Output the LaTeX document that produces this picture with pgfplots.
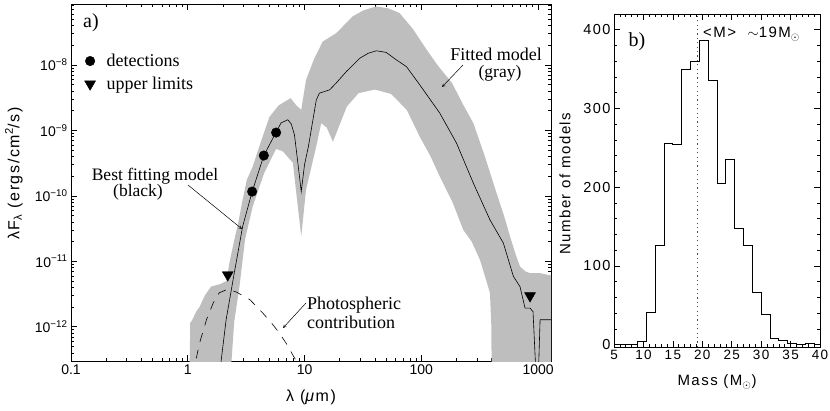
\documentclass[border=0pt]{standalone}
\usepackage{pgfplots}
\pgfplotsset{compat=1.18}
\usepackage{fontspec}
\setmainfont{Liberation Sans}
\newfontfamily\timesfont{Liberation Serif}
\newfontfamily\widefont[LetterSpace=10]{Liberation Sans}
\definecolor{sedgray}{RGB}{190,190,190}
\begin{document}
\begin{tikzpicture}
\path[use as bounding box] (0pt,0pt) rectangle (830pt,411pt);
% ---------------- left panel ----------------
\begin{axis}[
  at={(71pt,50pt)}, anchor=south west,
  scale only axis, width=480pt, height=357pt,
  xmode=log, ymode=log,
  /pgf/number format/assume math mode=true,
  xmin=0.1, xmax=1290, ymin=3e-13, ymax=8.5e-8,
  xtick={0.1,1,10,100,1000}, xticklabels={0.1,1,10,100,1000},
  minor xtick={0.2,0.3,0.4,0.5,0.6,0.7,0.8,0.9,2,3,4,5,6,7,8,9,20,30,40,50,60,70,80,90,200,300,400,500,600,700,800,900},
  ytick={1e-12,1e-11,1e-10,1e-9,1e-8},
  yticklabels={10\textsuperscript{−12},10\textsuperscript{−11},10\textsuperscript{−10},10\textsuperscript{−9},10\textsuperscript{−8}},
  minor ytick={4e-13,5e-13,6e-13,7e-13,8e-13,9e-13,2e-12,3e-12,4e-12,5e-12,6e-12,7e-12,8e-12,9e-12,2e-11,3e-11,4e-11,5e-11,6e-11,7e-11,8e-11,9e-11,2e-10,3e-10,4e-10,5e-10,6e-10,7e-10,8e-10,9e-10,2e-9,3e-9,4e-9,5e-9,6e-9,7e-9,8e-9,9e-9,2e-8,3e-8,4e-8,5e-8,6e-8,7e-8,8e-8},
  tick align=inside, tick pos=both,
  major tick length=6pt, minor tick length=3pt,
  every tick/.style={black, line width=0.6pt},
  axis line style={line width=0.8pt},
  ticklabel style={font=\fontsize{14}{16}\selectfont},
  xlabel={λ (\textit{μ}m)},
  xlabel style={font=\widefont\fontsize{16}{18}\selectfont, at={(axis description cs:0.5,-0.101)}, anchor=center},
  ylabel={λF\textsubscript{λ} (ergs/cm\textsuperscript{2}/s)},
  ylabel style={font=\widefont\fontsize{16}{18}\selectfont, at={(axis description cs:-0.119,0.525)}, anchor=center},
  legend style={at={(axis description cs:0.028,0.866)}, anchor=north west, draw=none, fill=none,
    font=\timesfont\fontsize{18}{21}\selectfont, row sep=5pt, column sep=9pt, inner sep=0pt},
  legend cell align=left,
]
% gray envelope of fitted models
\addplot[fill=sedgray, draw=none, forget plot] coordinates {
(1.03,1e-13) (1.05,1.14e-12) (1.1,1.3e-12) (1.18,1.7e-12) (1.26,2.0e-12) (1.4,3.0e-12)
(1.58,4.1e-12) (1.9,4.5e-12) (2.15,5.0e-12) (2.27,9.4e-12) (2.5,2.1e-11) (2.7,3.8e-11)
(2.95,8.7e-11) (3.2,1.75e-10) (3.6,2.8e-10) (4.1,5.7e-10) (5.0,1.6e-9) (6.0,2.4e-9)
(7.6,3.1e-9) (8.5,2.4e-9) (9.37,2.06e-9) (10.3,5.9e-9) (12,1.2e-8) (14.3,2.27e-8)
(18.7,3.05e-8) (25.8,5.5e-8) (32,6.8e-8) (41,7.8e-8) (52,7.3e-8) (65,6.2e-8) (85,3.5e-8)
(110,1.75e-8) (140,9.5e-9) (183,5.3e-9) (230,2.4e-9) (279,1.29e-9) (350,4e-10)
(441,1.1e-10) (510,5e-11) (575,2.4e-11) (640,1.3e-11) (700,8.3e-12) (780,7e-12)
(853,6.6e-12) (1030,6.6e-12) (1400,5.9e-12) (1400,1e-13)
(401,1e-13) (398,1.0e-12) (387,3.3e-12) (350,6e-12) (318,1.05e-11) (270,2e-11)
(229,3e-11) (185,8e-11) (144,1.97e-10) (120,4e-10) (97,8e-10) (75,2.06e-9) (55,3.6e-9)
(40,4.2e-9) (29,3.7e-9) (23,2.3e-9) (17.5,6.7e-10) (15.5,1.1e-9) (13.9,1.29e-9)
(12.6,5.7e-10) (10.3,1.24e-10) (9.37,2.4e-11) (7.94,3.2e-10) (6.5,4.8e-10) (5.7,5.2e-10)
(4.5,2.2e-10) (3.6,6.9e-11) (3.1,2.2e-11) (2.77,4.1e-12) (2.5,1.2e-12) (2.27,1e-13)
} --cycle;
% best fitting model
\addplot[black, line width=0.6pt, forget plot] coordinates {
(1.85,1e-13) (1.93,3e-13) (2.13,1.28e-12) (2.5,6.6e-12) (2.95,3.4e-11) (3.56,1.16e-10)
(4.48,4.12e-10) (5.71,9.4e-10) (6.3,1.3e-9) (7.19,1.45e-9) (7.7,1.25e-9) (8.2,8.5e-10)
(8.8,3e-10) (9.37,1.16e-10) (10.0,3e-10) (10.8,5.7e-10) (12.6,2.9e-9) (13.4,3.7e-9)
(16.4,4.15e-9) (18.7,5.3e-9) (22.8,7.9e-9) (29.7,1.26e-8) (35,1.5e-8) (41.2,1.64e-8)
(50,1.55e-8) (61.2,1.19e-8) (74.6,9.4e-9) (97,4.95e-9) (144,1.83e-9) (200,6.4e-10)
(279,1.56e-10) (387,4.3e-11) (504,1.9e-11) (614,5.9e-12) (700,4.1e-12) (773,1.93e-12)
(853,1.93e-12) (905,1.7e-12) (975,1e-13) (995,1e-13) (1040,1.28e-12) (1400,1.28e-12)
};
% photospheric contribution
\addplot[black, line width=0.6pt, dash pattern=on 9pt off 8pt, forget plot] coordinates {
(1.12,1e-13) (1.17,3e-13) (1.26,5.6e-13) (1.45,1.3e-12) (1.65,2.3e-12) (1.86,3.3e-12)
(2.2,3.75e-12) (2.6,3.4e-12) (3.05,2.9e-12) (3.4,2.6e-12) (4.39,1.62e-12) (5.2,1.15e-12)
(6.1,8.0e-13) (7.0,5.5e-13) (7.94,3.7e-13) (8.6,2.9e-13) (9.5,2e-13)
};
% detections
\addplot[only marks, mark=*, mark size=4.8pt, black] coordinates {
(3.56,1.16e-10) (4.48,4.12e-10) (5.71,9.25e-10)
};
\addlegendentry{detections}
% upper limits
\addplot[only marks, mark=triangle*, mark size=6.3pt, mark options={rotate=180}, black] coordinates {
(2.2,6.2e-12) (853,2.97e-12)
};
\addlegendentry{upper limits}
\end{axis}
% annotations left panel
\node[font=\timesfont\fontsize{20}{22}\selectfont, anchor=center] at (91pt,388pt) {a)};
\node[font=\timesfont\fontsize{17.5}{20}\selectfont, anchor=base, inner sep=0pt] at (155pt,230pt) {Best fitting model};
\node[font=\timesfont\fontsize{17.5}{20}\selectfont, anchor=base, inner sep=0pt] at (138pt,214pt) {(black)};
\draw[-stealth, line width=0.5pt] (188pt,226pt) -- (242pt,182pt);
\node[font=\timesfont\fontsize{18}{20}\selectfont, anchor=base, inner sep=0pt] at (496pt,350pt) {Fitted model};
\node[font=\timesfont\fontsize{17.5}{20}\selectfont, anchor=base, inner sep=0pt] at (500pt,333pt) {(gray)};
\draw[-stealth, line width=0.5pt] (463pt,346pt) -- (442pt,324pt);
\node[font=\timesfont\fontsize{18}{20}\selectfont, anchor=base west, inner sep=0pt] at (307pt,101pt) {Photospheric};
\node[font=\timesfont\fontsize{18}{20}\selectfont, anchor=base west, inner sep=0pt] at (307pt,82pt) {contribution};
\draw[-stealth, line width=0.5pt] (306pt,108pt) -- (283pt,83pt);
% ---------------- right panel ----------------
\begin{axis}[
  at={(614pt,64pt)}, anchor=south west,
  scale only axis, width=206pt, height=333pt,
  /pgf/number format/assume math mode=true,
  xmin=5, xmax=40, ymin=-3, ymax=420,
  xtick={5,10,15,20,25,30,35,40}, ytick={0,100,200,300,400},
  minor x tick num=4, minor y tick num=4,
  tick align=inside, tick pos=both,
  major tick length=6pt, minor tick length=3pt,
  every tick/.style={black, line width=0.6pt},
  axis line style={line width=0.8pt},
  xticklabel style={font=\widefont\fontsize{13.5}{16}\selectfont},
  yticklabel style={font=\widefont\fontsize{14.5}{16}\selectfont},
  xlabel={Mass (M\textsubscript{$\odot$})},
  xlabel style={font=\widefont\fontsize{15}{17}\selectfont, at={(axis description cs:0.5,-0.105)}, anchor=center},
  ylabel={Number of models},
  ylabel style={font=\widefont\fontsize{15}{17}\selectfont, at={(axis description cs:-0.238,0.49)}, anchor=center},
]
\addplot[const plot, black, line width=0.8pt] coordinates {
(5,0) (9,4) (10.5,41) (12,126) (13.5,256) (15,254) (16.5,349) (18,360) (19.5,386)
(21,336) (22.5,205) (24,235) (25.5,148) (27,126) (28.5,66) (30,39) (31.5,8.5) (33,5.5)
(34.5,1.5) (36,0.5) (37.5,1) (39,0) (40,0)
};
\addplot[black!70, line width=1.1pt, dash pattern=on 1.2pt off 3.2pt] coordinates {(19.2,-3) (19.2,420)};
\end{axis}
\node[font=\timesfont\fontsize{20}{22}\selectfont, anchor=base] at (637pt,364pt) {b)};
\node[font=\widefont\fontsize{15}{17}\selectfont, anchor=base west, inner sep=0pt] at (703pt,373pt) {<M>\ \ $\sim$19M\textsubscript{$\odot$}};
\end{tikzpicture}
\end{document}
